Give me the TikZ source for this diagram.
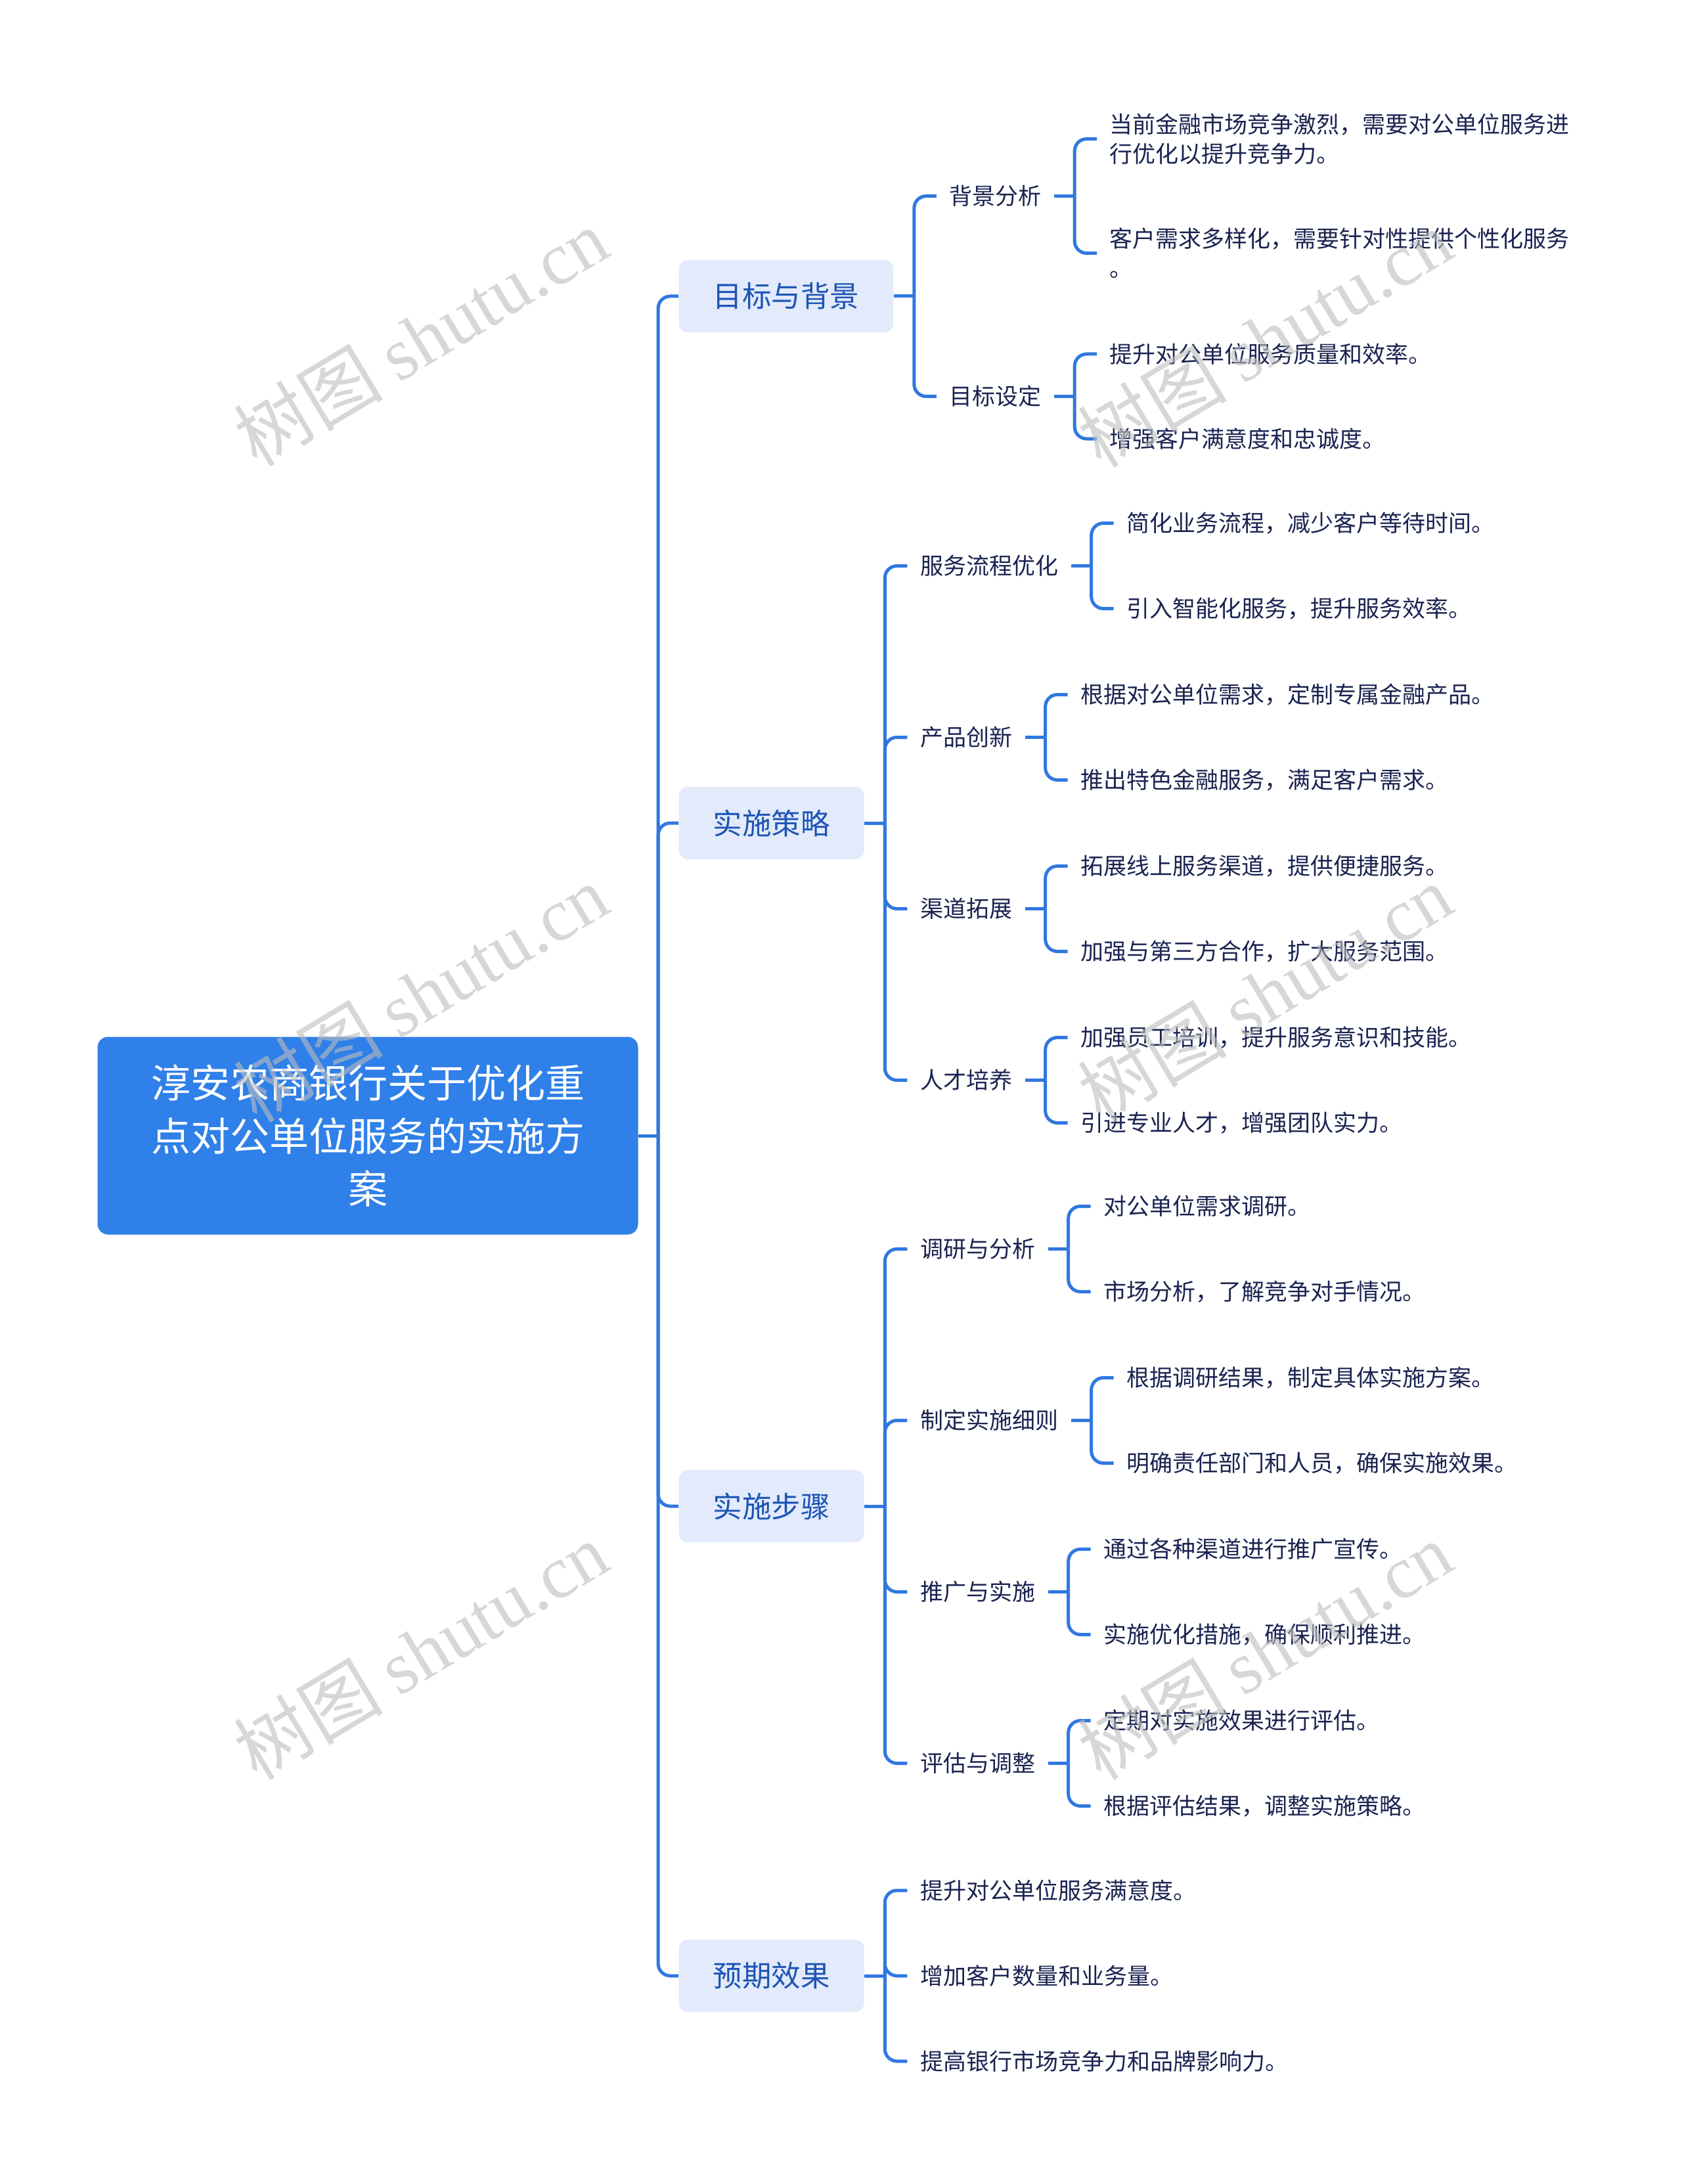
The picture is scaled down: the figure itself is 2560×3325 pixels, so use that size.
\documentclass[tikz,border=0pt]{standalone}
\usepackage{fontspec}
\setmainfont{Noto Sans CJK SC}
\newfontfamily\wmfont{Liberation Serif}
\usetikzlibrary{calc}
\definecolor{conn}{HTML}{3078E0}
\definecolor{rootfill}{HTML}{2F80E8}
\definecolor{lvfill}{HTML}{E2EAFB}
\definecolor{lvtext}{HTML}{1E55B4}
\definecolor{leaftext}{HTML}{1A2350}
\definecolor{wm}{HTML}{BDBDBD}
\begin{document}
\begin{tikzpicture}[x=0.3pt,y=-0.3pt,
  rootbox/.style={fill=rootfill, rounded corners=4.8pt, minimum width=246.9pt, minimum height=90.3pt, align=center, text=white, font=\fontsize{18pt}{24.2pt}\selectfont, inner sep=0pt},
  lvbox/.style={fill=lvfill, rounded corners=4pt, minimum height=33pt, inner xsep=15.6pt, inner ysep=0pt, text=lvtext, font=\fontsize{13.35pt}{16pt}\selectfont, anchor=west},
  subbox/.style={inner xsep=5.7pt, inner ysep=2pt, text=leaftext, font=\fontsize{10.5pt}{13.4pt}\selectfont, anchor=west, align=left},
  leafbox/.style={subbox},
  link/.style={draw=conn, line width=1.5pt, rounded corners=5.5pt},
  wmark/.style={text=wm, rotate=31, font=\fontsize{34pt}{38pt}\selectfont, opacity=0.6}
]
\useasboundingbox (0,0) rectangle (2560,3325);

% root
\node[rootbox] (root) at (560,1729) {淳安农商银行关于优化重\\点对公单位服务的实施方\\案};
\coordinate (T) at ($(root.east)+(30,0)$);

% level 1
\node[lvbox] (L1) at (1033,451) {目标与背景};
\node[lvbox] (L2) at (1033,1253) {实施策略};
\node[lvbox] (L3) at (1033,2293) {实施步骤};
\node[lvbox] (L4) at (1033,3008) {预期效果};

\coordinate (B1) at ($(L1.east)+(31,0)$);
\coordinate (B2) at ($(L2.east)+(31,0)$);
\coordinate (B3) at ($(L3.east)+(31,0)$);
\coordinate (B4) at ($(L4.east)+(31,0)$);

% group 1
\node[subbox] (S11) at ($(B1)+(34,-152.5)$) {背景分析};
\node[subbox] (S12) at ($(B1)+(34,152.5)$) {目标设定};
\coordinate (C11) at ($(S11.east)+(31,0)$);
\coordinate (C12) at ($(S12.east)+(31,0)$);
\node[leafbox] (S111) at ($(C11)+(34,-87)$) {当前金融市场竞争激烈，需要对公单位服务进\\行优化以提升竞争力。};
\node[leafbox] (S112) at ($(C11)+(34,87)$) {客户需求多样化，需要针对性提供个性化服务\\。};
\node[leafbox] (S121) at ($(C12)+(34,-64.5)$) {提升对公单位服务质量和效率。};
\node[leafbox] (S122) at ($(C12)+(34,64.5)$) {增强客户满意度和忠诚度。};

% group 2
\node[subbox] (S21) at ($(B2)+(34,-391.5)$) {服务流程优化};
\node[subbox] (S22) at ($(B2)+(34,-130.5)$) {产品创新};
\node[subbox] (S23) at ($(B2)+(34,130.5)$) {渠道拓展};
\node[subbox] (S24) at ($(B2)+(34,391.5)$) {人才培养};
\coordinate (C21) at ($(S21.east)+(31,0)$);
\coordinate (C22) at ($(S22.east)+(31,0)$);
\coordinate (C23) at ($(S23.east)+(31,0)$);
\coordinate (C24) at ($(S24.east)+(31,0)$);
\node[leafbox] (S211) at ($(C21)+(34,-65)$) {简化业务流程，减少客户等待时间。};
\node[leafbox] (S212) at ($(C21)+(34,65)$) {引入智能化服务，提升服务效率。};
\node[leafbox] (S221) at ($(C22)+(34,-65)$) {根据对公单位需求，定制专属金融产品。};
\node[leafbox] (S222) at ($(C22)+(34,65)$) {推出特色金融服务，满足客户需求。};
\node[leafbox] (S231) at ($(C23)+(34,-65)$) {拓展线上服务渠道，提供便捷服务。};
\node[leafbox] (S232) at ($(C23)+(34,65)$) {加强与第三方合作，扩大服务范围。};
\node[leafbox] (S241) at ($(C24)+(34,-65)$) {加强员工培训，提升服务意识和技能。};
\node[leafbox] (S242) at ($(C24)+(34,65)$) {引进专业人才，增强团队实力。};

% group 3
\node[subbox] (S31) at ($(B3)+(34,-391.5)$) {调研与分析};
\node[subbox] (S32) at ($(B3)+(34,-130.5)$) {制定实施细则};
\node[subbox] (S33) at ($(B3)+(34,130.5)$) {推广与实施};
\node[subbox] (S34) at ($(B3)+(34,391.5)$) {评估与调整};
\coordinate (C31) at ($(S31.east)+(31,0)$);
\coordinate (C32) at ($(S32.east)+(31,0)$);
\coordinate (C33) at ($(S33.east)+(31,0)$);
\coordinate (C34) at ($(S34.east)+(31,0)$);
\node[leafbox] (S311) at ($(C31)+(34,-65)$) {对公单位需求调研。};
\node[leafbox] (S312) at ($(C31)+(34,65)$) {市场分析，了解竞争对手情况。};
\node[leafbox] (S321) at ($(C32)+(34,-65)$) {根据调研结果，制定具体实施方案。};
\node[leafbox] (S322) at ($(C32)+(34,65)$) {明确责任部门和人员，确保实施效果。};
\node[leafbox] (S331) at ($(C33)+(34,-65)$) {通过各种渠道进行推广宣传。};
\node[leafbox] (S332) at ($(C33)+(34,65)$) {实施优化措施，确保顺利推进。};
\node[leafbox] (S341) at ($(C34)+(34,-65)$) {定期对实施效果进行评估。};
\node[leafbox] (S342) at ($(C34)+(34,65)$) {根据评估结果，调整实施策略。};

% group 4
\node[leafbox] (S41) at ($(B4)+(34,-130)$) {提升对公单位服务满意度。};
\node[leafbox] (S42) at ($(B4)+(34,0)$) {增加客户数量和业务量。};
\node[leafbox] (S43) at ($(B4)+(34,130)$) {提高银行市场竞争力和品牌影响力。};

% connectors: trunk
\draw[link] (root.east) -- (T);
\foreach \n in {L1,L2,L3,L4} { \draw[link] (T) |- (\n.west); }
% level-1 stubs and brackets
\draw[link] (L1.east) -- (B1);
\draw[link] (L2.east) -- (B2);
\draw[link] (L3.east) -- (B3);
\draw[link] (L4.east) -- (B4);
\foreach \n in {S11,S12} { \draw[link] (B1) |- (\n.west); }
\foreach \n in {S21,S22,S23,S24} { \draw[link] (B2) |- (\n.west); }
\foreach \n in {S31,S32,S33,S34} { \draw[link] (B3) |- (\n.west); }
\foreach \n in {S41,S42,S43} { \draw[link] (B4) |- (\n.west); }
% level-2 stubs and leaf brackets
\foreach \s in {S11,S12,S21,S22,S23,S24,S31,S32,S33,S34} {
  \draw[link] (\s.east) -- ($(\s.east)+(31,0)$);
  \draw[link] ($(\s.east)+(31,0)$) |- (\s1.west);
  \draw[link] ($(\s.east)+(31,0)$) |- (\s2.west);
}

% watermarks
\node[wmark] (w1) at (641,513) {树图 {\wmfont shutu.cn}};
\node[wmark] (w2) at (641,1512) {树图 {\wmfont shutu.cn}};
\node[wmark] (w3) at (641,2513) {树图 {\wmfont shutu.cn}};
\node[wmark] (w4) at (1926,515) {树图 {\wmfont shutu.cn}};
\node[wmark] (w5) at (1926,1512) {树图 {\wmfont shutu.cn}};
\node[wmark] (w6) at (1926,2513) {树图 {\wmfont shutu.cn}};
\end{tikzpicture}
\end{document}
